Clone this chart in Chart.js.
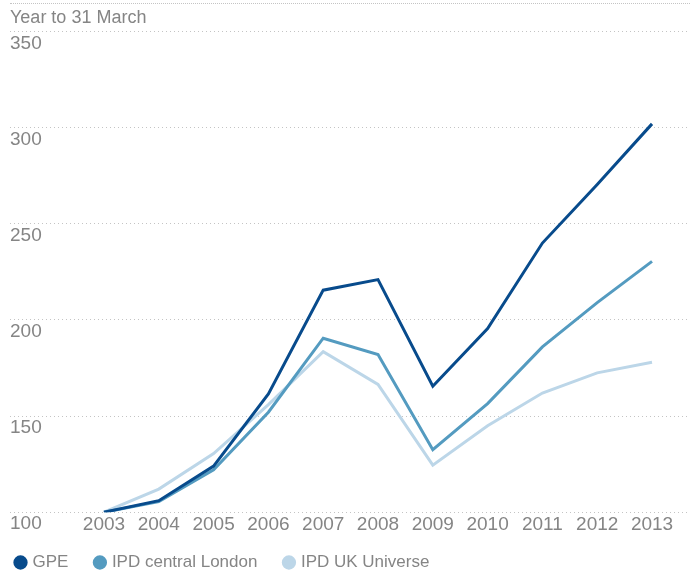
<!DOCTYPE html>
<html lang="en">
<head>
    <meta charset="UTF-8">
    <title>Year to 31 March</title>
    <script src="https://cdn.jsdelivr.net/npm/chart.js"></script>
    <style>
        body { margin: 0; background: #fff; }
        .wrap { position: relative; width: 699px; height: 567px; margin-top: 4px; }
        .rule { position: absolute; left: 10px; right: 9px; top: 3px; border-top: 1px dotted #c4c4c4; }
    </style>
</head>
<body>
    <div class="rule"></div>
    <div class="wrap"><canvas id="myChart"></canvas></div>

    <script>
        const years = [2003, 2004, 2005, 2006, 2007, 2008, 2009, 2010, 2011, 2012, 2013];
        const gpe = [100, 106, 124, 161.5, 215.5, 221, 165.5, 195.5, 240, 270.5, 302];
        const ipdLondon = [100, 105.5, 122, 152, 190.5, 182, 132.5, 156.5, 186, 209, 230.5];
        const ipdUk = [100, 112, 130.5, 156, 183.5, 166.5, 124.5, 145, 162, 172.5, 178];
        const yTicks = [100, 150, 200, 250, 300, 350];

        const grey = '#858585';
        const family = '"Liberation Sans", Arial, sans-serif';
        const tickFont = { family: family, size: 19 };

        function toPoints(values) {
            return years.map((yr, i) => ({ x: yr, y: values[i] }));
        }

        function series(label, values, colour) {
            return {
                label: label,
                data: toPoints(values),
                borderColor: colour,
                backgroundColor: colour,
                borderWidth: 3,
                pointRadius: 0,
                tension: 0,
                fill: false
            };
        }

        // move the legend row left and up, keeping wide gaps between its items
        const legendShift = {
            id: 'legendShift',
            afterLayout(chart) {
                const lg = chart.legend;
                lg.left -= 21;
                lg.right -= 21;
                lg.top -= 12;
                lg.bottom -= 12;
            }
        };

        const ctx = document.getElementById('myChart').getContext('2d');
        const myChart = new Chart(ctx, {
            type: 'line',
            data: {
                datasets: [
                    series('GPE', gpe, '#084b8c'),
                    series('IPD central London', ipdLondon, '#549bc0'),
                    series('IPD UK Universe', ipdUk, '#bcd6e8')
                ]
            },
            plugins: [legendShift],
            options: {
                responsive: true,
                maintainAspectRatio: false,
                animation: false,
                layout: { padding: { left: 10, right: 9, bottom: -22 } },
                plugins: {
                    tooltip: { enabled: false },
                    title: {
                        display: true,
                        text: 'Year to 31 March',
                        align: 'start',
                        color: grey,
                        font: { family: family, size: 18, weight: 'normal' },
                        padding: { top: 3, bottom: 3 }
                    },
                    legend: {
                        position: 'bottom',
                        align: 'start',
                        labels: {
                            usePointStyle: true,
                            pointStyle: 'circle',
                            boxWidth: 7,
                            boxHeight: 8,
                            padding: 28,
                            color: grey,
                            font: { family: family, size: 17 }
                        }
                    }
                },
                scales: {
                    x: {
                        type: 'linear',
                        min: 2001.285,
                        max: 2013.693,
                        afterBuildTicks: scale => { scale.ticks = years.map(v => ({ value: v })); },
                        afterFit: scale => { scale.height += 1; },
                        grid: { display: false, drawTicks: false },
                        border: { display: false },
                        ticks: {
                            autoSkip: false,
                            maxRotation: 0,
                            padding: 1,
                            color: grey,
                            font: tickFont,
                            callback: v => String(v)
                        }
                    },
                    y: {
                        min: 100,
                        max: 350,
                        afterBuildTicks: scale => { scale.ticks = yTicks.map(v => ({ value: v })); },
                        grid: { color: '#c4c4c4', lineWidth: 1, drawTicks: false },
                        border: { display: false, dash: [1, 3] },
                        ticks: {
                            mirror: true,
                            padding: 0,
                            labelOffset: 12,
                            color: grey,
                            font: tickFont
                        }
                    }
                }
            }
        });
    </script>
</body>
</html>
